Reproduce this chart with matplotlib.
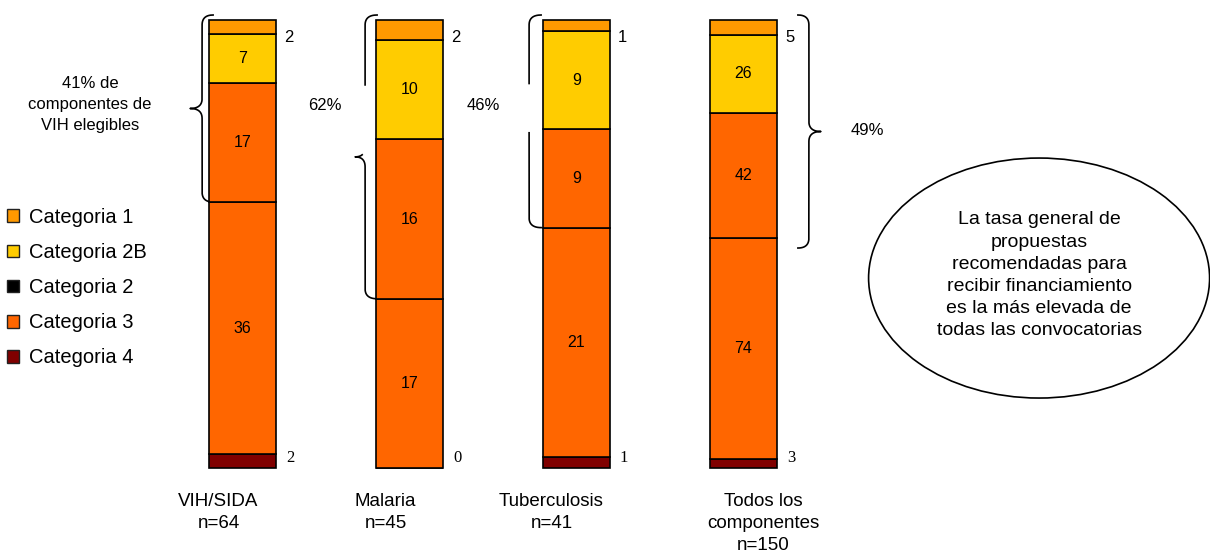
import numpy as np
import matplotlib
matplotlib.use('Agg')
import matplotlib.pyplot as plt
from matplotlib.patches import Ellipse, Patch

plt.rcParams['font.family'] = ['Liberation Sans', 'DejaVu Sans']

# counts per component, bottom to top of each stack
components = ['VIH/SIDA', 'Malaria', 'Tuberculosis', 'Todos los\ncomponentes']
cat4 = [2, 0, 1, 3]
cat3 = [36, 17, 21, 74]
cat3_upper = [17, 16, 9, 42]
cat2b = [7, 10, 9, 26]
cat1 = [2, 2, 1, 5]

legend_labels = ['Categoria 1', 'Categoria 2B', 'Categoria 2', 'Categoria 3', 'Categoria 4']
legend_colors = ['#FF9900', '#FFCC00', '#000000', '#FF6600', '#800000']

note = ('La tasa general de\npropuestas\nrecomendadas para\nrecibir financiamiento\n'
        'es la más elevada de\ntodas las convocatorias')

totals = np.array(cat4) + np.array(cat3) + np.array(cat3_upper) + np.array(cat2b) + np.array(cat1)
upper_share = (np.array(cat3_upper) + np.array(cat2b) + np.array(cat1)) / totals
pct = np.round(100 * upper_share).astype(int)

# pixel scale of the axes (data units -> pixels)
XPX, YPX = 167.0, 448.0
fig = plt.figure(figsize=(12.1, 5.59), dpi=100)
ax = fig.add_axes([0, 0, 1, 1])
ax.set_xlim(-242.5 / XPX, (1210 - 242.5) / XPX)
ax.set_ylim((468 - 559) / YPX, 468 / YPX)
ax.axis('off')

x = np.arange(len(components))
w = 0.4
stack = [(cat4, '#800000'), (cat3, '#FF6600'), (cat3_upper, '#FF6600'),
         (cat2b, '#FFCC00'), (cat1, '#FF9900')]
bottom = np.zeros(len(x))
for i, (vals, col) in enumerate(stack):
    share = np.array(vals) / totals
    ax.bar(x, share, width=w, bottom=bottom, color=col, edgecolor='black', linewidth=1.2, zorder=2)
    if i in (1, 2, 3):
        for xi, v, b, s in zip(x, vals, bottom, share):
            ax.text(xi, b + s / 2, str(v), ha='center', va='center', fontsize=11.5, zorder=3)
    bottom += share

# values of the thin end segments, outside the bars
for xi, v in zip(x, cat4):
    ax.text(xi + w / 2 + 10 / XPX, 0.022, str(v), ha='left', va='center',
            fontsize=12, family='Liberation Serif')
for xi, v in zip(x, cat1):
    ax.text(xi + w / 2 + 8 / XPX, 0.962, str(v), ha='left', va='center', fontsize=12)

# component names under the bars
name_dx = [-24, -24, -25, 20]
for xi, name, n, dx in zip(x, components, totals, name_dx):
    ax.text(xi + dx / XPX, -0.055, f'{name}\nn={n}', ha='center', va='top',
            fontsize=13.5, linespacing=1.4)


def qbez(p0, p1, p2, n=25):
    t = np.linspace(0, 1, n)[:, None]
    return (1 - t) ** 2 * np.array(p0) + 2 * (1 - t) * t * np.array(p1) + t ** 2 * np.array(p2)


def seg(p0, p1, n=60):
    t = np.linspace(0, 1, n)[:, None]
    return (1 - t) * np.array(p0) + t * np.array(p1)


def brace(xv, y_top, y_bot, de, dt, gap=None):
    ry = 10 / YPX
    ym = (y_top + y_bot) / 2
    pts = np.vstack([
        qbez((xv + de, y_top), (xv, y_top), (xv, y_top - ry)),
        seg((xv, y_top - ry), (xv, ym + ry)),
        qbez((xv, ym + ry), (xv, ym), (xv + dt, ym)),
        qbez((xv + dt, ym), (xv, ym), (xv, ym - ry)),
        seg((xv, ym - ry), (xv, y_bot + ry)),
        qbez((xv, y_bot + ry), (xv, y_bot), (xv + de, y_bot)),
    ])
    if gap is not None:
        hide = (pts[:, 1] > gap[0]) & (pts[:, 1] < gap[1])
        pts[hide] = np.nan
    ax.plot(pts[:, 0], pts[:, 1], color='black', lw=1.2, zorder=1)


top = 1 + 5 / YPX
brace_bot = (np.array(cat4) + np.array(cat3)) / totals
brace(x[0] - w / 2 - 7 / XPX, top, brace_bot[0], 11 / XPX, -12 / XPX)
brace(x[1] - w / 2 - 11 / XPX, top, brace_bot[1], 12 / XPX, -10 / XPX, gap=(0.70, 0.855))
brace(x[2] - w / 2 - 14 / XPX, top, brace_bot[2], 12 / XPX, -12 / XPX, gap=(0.75, 0.855))
brace(x[3] + w / 2 + 32 / XPX, top, brace_bot[3] - 10 / YPX, -11 / XPX, 12 / XPX)

# share of components above category 3
ax.text(-0.913, 0.8125, f'{pct[0]}% de\ncomponentes de\nVIH elegibles', ha='center', va='center',
        fontsize=12, linespacing=1.5)
ax.text(x[1] - 0.506, 0.81, f'{pct[1]}%', ha='center', va='center', fontsize=12)
ax.text(x[2] - 0.56, 0.81, f'{pct[2]}%', ha='center', va='center', fontsize=12)
ax.text(x[3] + 0.74, 0.754, f'{pct[3]}%', ha='center', va='center', fontsize=12)

# callout
ax.add_patch(Ellipse((4.77, 0.424), 341 / XPX, 240 / YPX, facecolor='white',
                     edgecolor='black', lw=1.2))
ax.text(4.77, 0.43, note, ha='center', va='center', fontsize=14, linespacing=1.4)

handles = [Patch(facecolor=c, edgecolor='#222222', linewidth=1) for c in legend_colors]
fig.legend(handles, legend_labels, loc='upper left', bbox_to_anchor=(0.006, 0.628),
           frameon=False, fontsize=14.5, handlelength=0.6, handleheight=0.6,
           handletextpad=0.5, labelspacing=0.8, borderpad=0, borderaxespad=0)

fig.savefig('out.png', dpi=100)
